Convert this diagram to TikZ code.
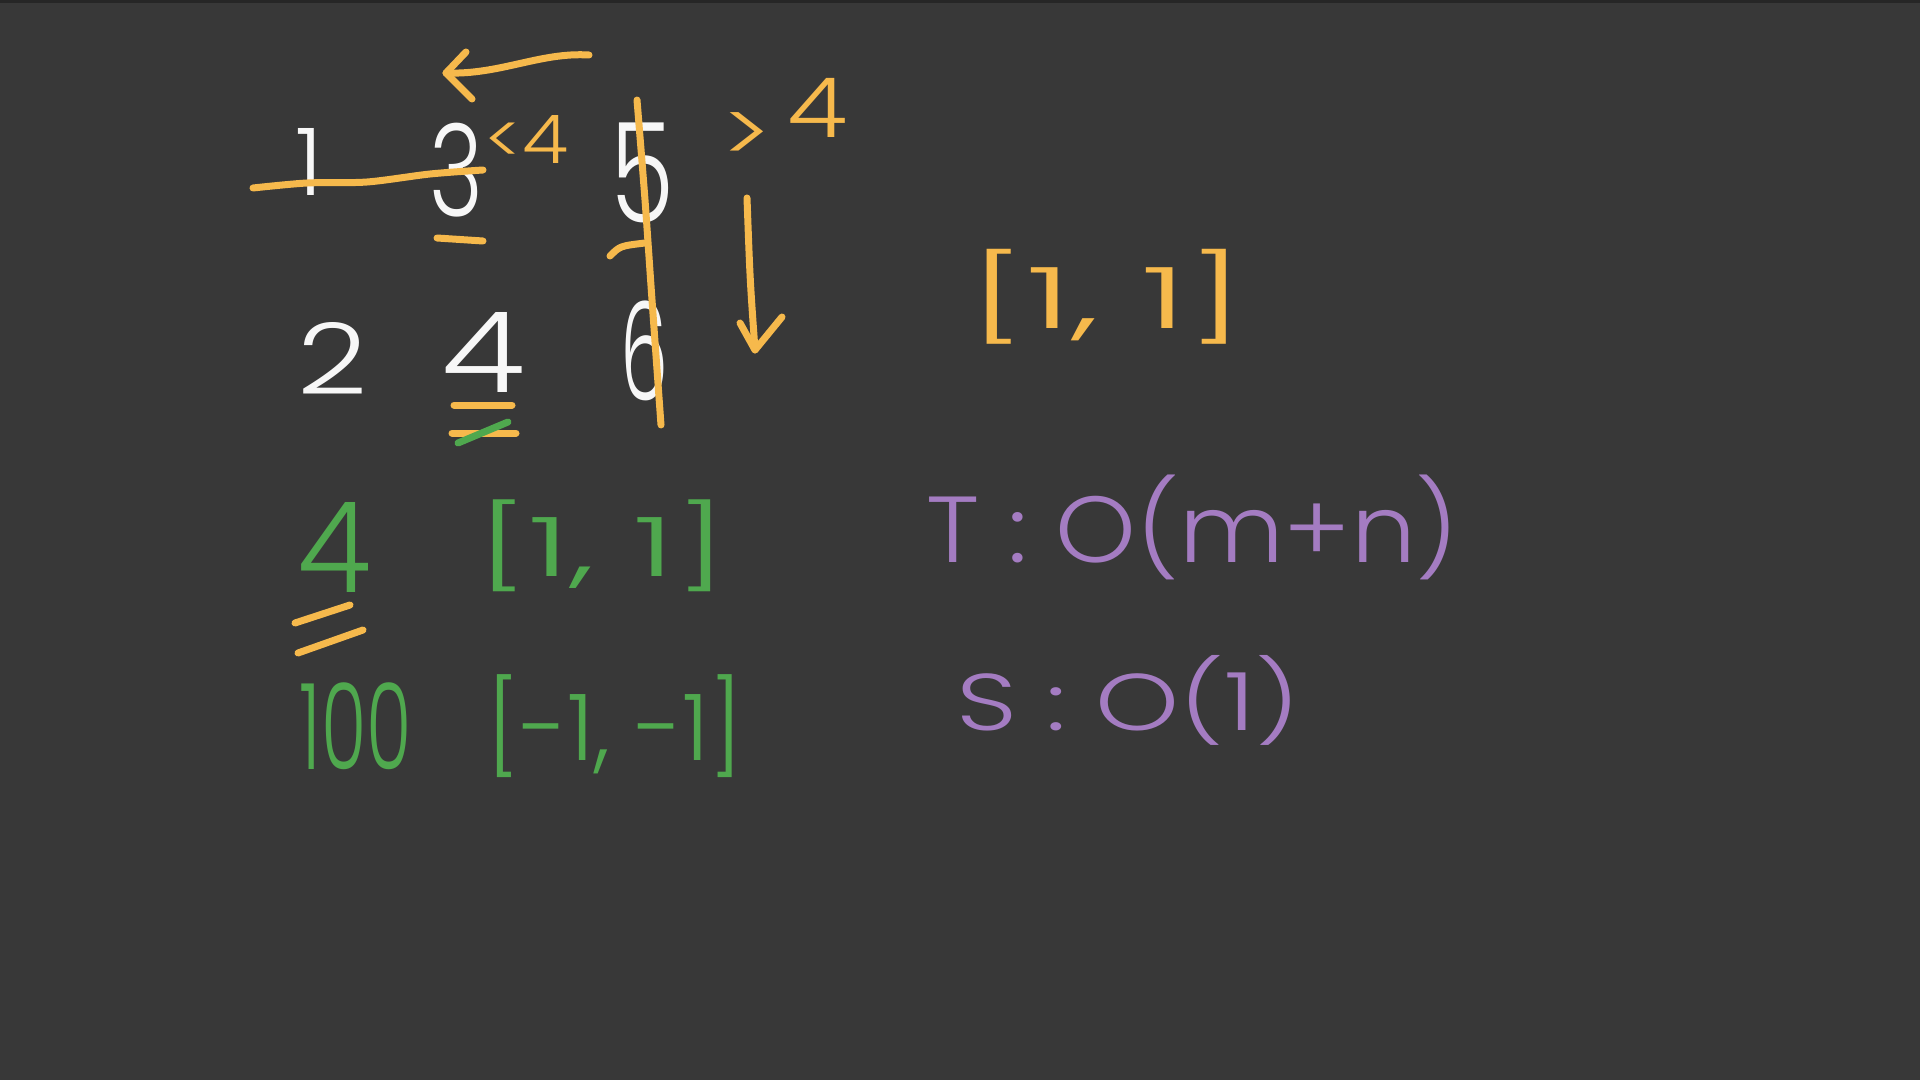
\documentclass[tikz,border=0pt]{standalone}
\usepackage{fontspec}
\usepackage{graphicx}
\IfFontExistsTF{Poppins Light}{\setmainfont{Poppins Light}}{\setmainfont{Poppins}}
\definecolor{bg}{HTML}{383838}
\definecolor{edge}{HTML}{262626}
\definecolor{wh}{HTML}{F7F7F7}
\definecolor{org}{HTML}{F6B94C}
\definecolor{grn}{HTML}{4FA84E}
\definecolor{pur}{HTML}{A47CC2}
\newlength\hwu
\setlength\hwu{0.5pt}
\newcommand\hwh[2]{\resizebox*{!}{#1\hwu}{#2}}
\newcommand\hwb[3]{\resizebox*{#1\hwu}{#2\hwu}{#3}}
\begin{document}
\begin{tikzpicture}[x=0.5pt,y=-0.5pt,
  stroke/.style={line width=3.5pt,line cap=round,line join=round},
  hw/.style={inner sep=0pt,outer sep=0pt,anchor=center}]
\fill[bg] (0,0) rectangle (1920,1080);
\fill[edge] (0,0) rectangle (1920,3);
\useasboundingbox (0,0) rectangle (1920,1080);

% white matrix
\node[hw,text=wh] (n1) at (309,162) {\hwh{67}{1}};
\node[hw,text=wh] (n3) at (456,170) {\hwb{54}{94}{3}};
\node[hw,text=wh] (n5) at (643,173) {\hwb{64}{100}{5}};
\node[hw,text=wh] (n2) at (333,358) {\hwb{70}{72}{2}};
\node[hw,text=wh] (n4) at (484,352) {\hwb{84}{80}{4}};
\node[hw,text=wh] (n6) at (644,351) {\hwb{48}{100}{6}};

% orange notes
\node[hw,text=org] (lt) at (527,140) {\hwb{84}{48}{<4}};
\node[hw,text=org] (gt) at (785,120) {\hwb{125}{84}{>\,\raisebox{0.3em}{4}}};
\node[hw,text=org] (ob) at (1107,297) {\hwb{276}{95}{[1,\ 1]}};

% green
\node[hw,text=grn] (g4) at (335,547) {\hwb{74}{90}{4}};
\node[hw,text=grn] (g100) at (356,726) {\hwb{112}{87}{100}};
\node[hw,text=grn] (gb1) at (602,546) {\hwb{250}{92}{[1,\ 1]}};
\node[hw,text=grn] (gb2) at (615,726) {\hwb{256}{103}{[-1,\ -1]}};

% purple
\node[hw,text=pur] (tc) at (1193,527) {\hwb{532}{105}{T : O(m+n)}};
\node[hw,text=pur] (sc) at (1128,700) {\hwb{344}{90}{S : O(1)}};

% orange strokes
\draw[stroke,org] (589,55) .. controls (540,52) and (500,75) .. (446,73);
\draw[stroke,org] (466,52) -- (446,73) -- (472,99);
\draw[stroke,org] plot[smooth] coordinates {(253,188) (307,183) (367,182) (430,174) (483,170)};
\draw[stroke,org] (437,238) -- (483,241);
\draw[stroke,org] plot[smooth] coordinates {(637,100) (645,200) (652,300) (661,425)};
\draw[stroke,org] (610,256) .. controls (620,246) .. (645,243);
\draw[stroke,org] (747,198) .. controls (750,280) .. (755,350);
\draw[stroke,org] (740,323) -- (755,350) -- (782,317);
\draw[stroke,org] (454,405) -- (512,405);
\draw[stroke,org] (452,433) -- (516,433);
\draw[stroke,grn] (458,443) -- (508,422);
\draw[stroke,org] (295,623) -- (350,605);
\draw[stroke,org] (298,653) -- (363,630);
\end{tikzpicture}
\end{document}
